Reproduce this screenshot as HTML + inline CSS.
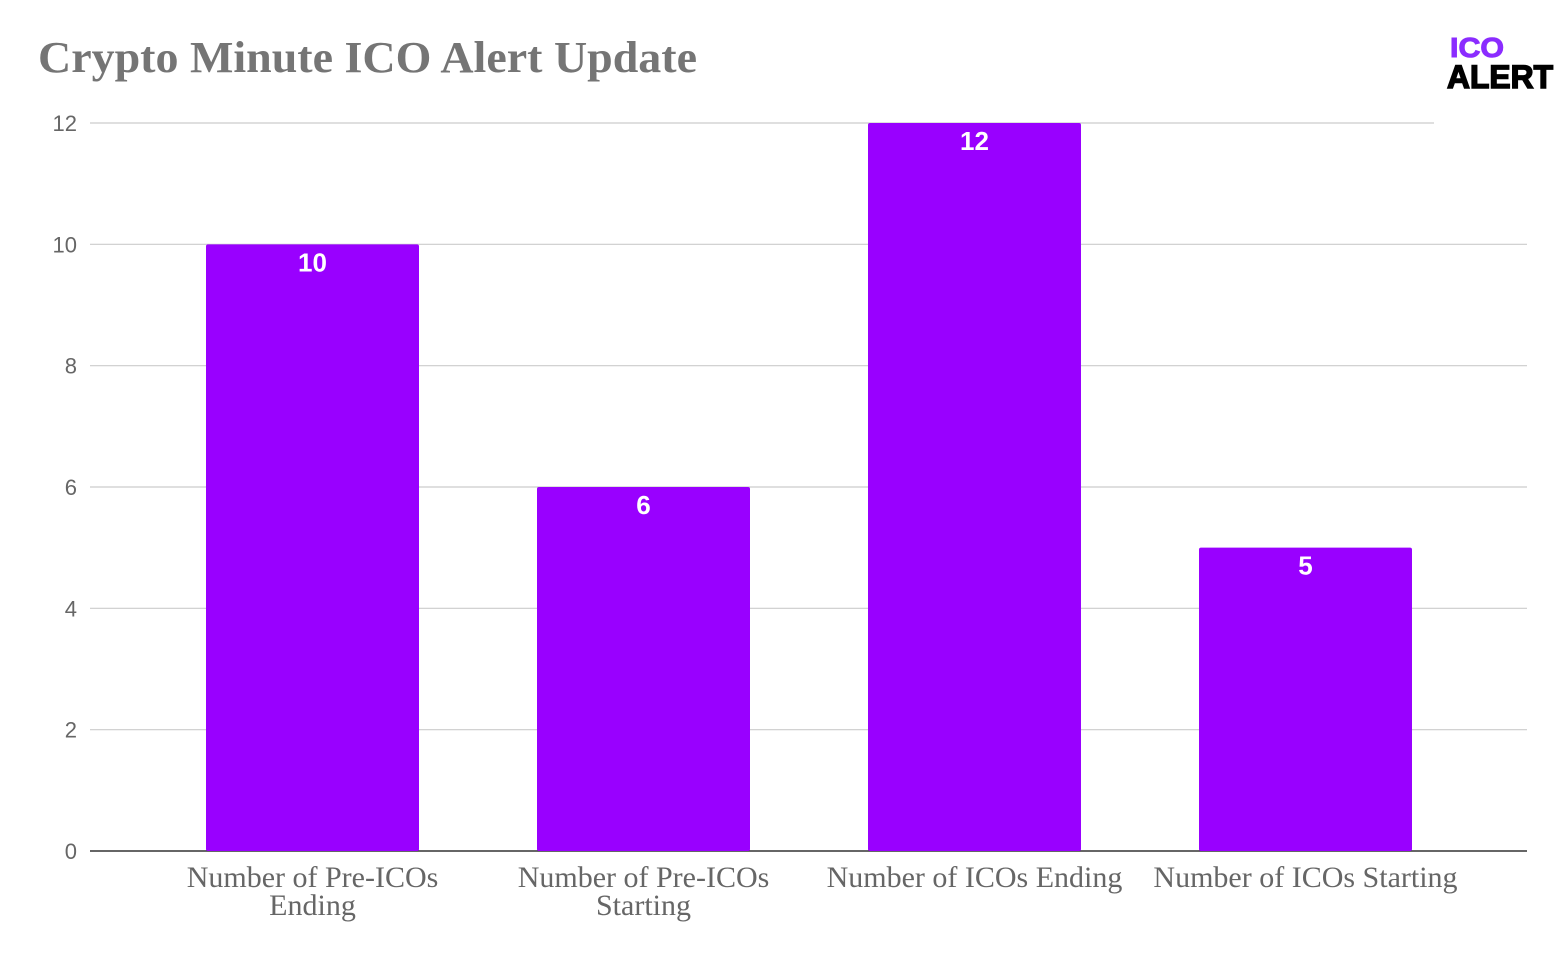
<!DOCTYPE html>
<html><head><meta charset="utf-8"><style>
body{margin:0;background:#fff;width:1566px;height:962px;overflow:hidden}
</style></head><body>
<svg width="1566" height="962" xmlns="http://www.w3.org/2000/svg">
<text x="38" y="72" font-family="Liberation Serif, serif" font-weight="bold" font-size="44" fill="#757575" textLength="659" lengthAdjust="spacingAndGlyphs">Crypto Minute ICO Alert Update</text>
<g>
<text x="1450" y="57" font-family="Liberation Sans, sans-serif" font-weight="bold" font-size="28" fill="#8b2cff" stroke="#8b2cff" stroke-width="1" textLength="54" lengthAdjust="spacingAndGlyphs">ICO</text>
<text x="1447" y="88" font-family="Liberation Sans, sans-serif" font-weight="bold" font-size="32" fill="#000" stroke="#000" stroke-width="1.5" textLength="106" lengthAdjust="spacingAndGlyphs">ALERT</text>
</g>
<g id="grid"></g><g id="bars"></g><g id="labels"></g>
</svg>
<script>
const categories=[["Number of Pre-ICOs","Ending"],["Number of Pre-ICOs","Starting"],["Number of ICOs Ending"],["Number of ICOs Starting"]];
const values=[10,6,12,5];
const ticks=[0,2,4,6,8,10,12];
const NS="http://www.w3.org/2000/svg";
const y0=851,pxPer=(851-123)/12,bandStart=147,band=331,barW=213;
const Y=v=>y0-v*pxPer, X=i=>bandStart+band*i+band/2;
function mk(t,a,p){const e=document.createElementNS(NS,t);for(const k in a)e.setAttribute(k,a[k]);p.appendChild(e);return e;}
const g=document.getElementById('grid'),b=document.getElementById('bars'),l=document.getElementById('labels');
ticks.forEach(t=>{
 const ln=mk('line',{x1:90,x2:t==12?1434:1527,y1:Y(t),y2:Y(t),stroke:t==0?'#333':'#ccc','stroke-width':t==0?1.5:1.2},g);
 
 
 const tx=mk('text',{x:77,y:Y(t)+8,'text-anchor':'end','font-family':'Liberation Sans, sans-serif','font-size':22,fill:'#666'},g);
 tx.textContent=t;
 
 
});
values.forEach((v,i)=>{
 const r=mk('rect',{x:X(i)-barW/2,y:Y(v),width:barW,height:y0-Y(v),fill:'#9900ff',rx:2},b);
 
 
 const t=mk('text',{x:X(i),y:Y(v)+27,'text-anchor':'middle','font-family':'Liberation Sans, sans-serif','font-weight':'bold','font-size':26,fill:'#fff'},b);
 t.textContent=v;
 
 
 categories[i].forEach((s,j)=>{
  const c=mk('text',{x:X(i),y:887+j*28,'text-anchor':'middle','font-family':'Liberation Serif, serif','font-size':30,fill:'#666'},l);
  c.textContent=s;
  
  
 });
});
</script>
</body></html>
